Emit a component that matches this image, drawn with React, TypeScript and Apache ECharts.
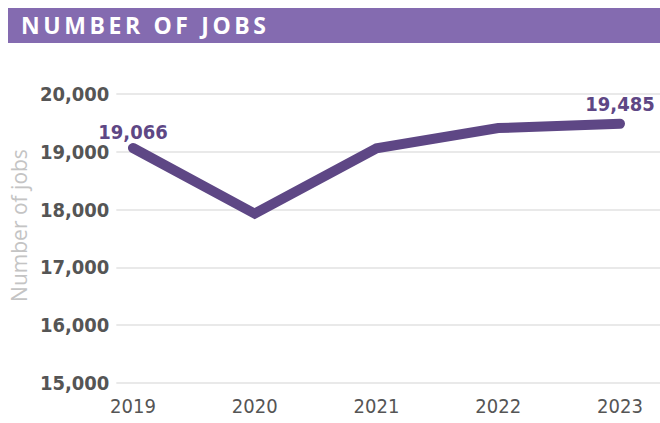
import React, { useEffect, useRef } from "react";
import * as echarts from "echarts";

const title = "NUMBER OF JOBS";
const years = ["2019", "2020", "2021", "2022", "2023"];
const jobs = [19066, 17930, 19060, 19410, 19485];
const yMin = 15000;
const yMax = 20000;
const yStep = 1000;
const yName = "Number of jobs";

const narrow = "'Liberation Sans Narrow', 'DejaVu Sans Condensed', sans-serif";

export default function App() {
  const ref = useRef<HTMLDivElement>(null);
  useEffect(() => {
    if (!ref.current) return;
    const chart = echarts.init(ref.current, null, { renderer: "svg" });
    const last = jobs.length - 1;
    chart.setOption({
      animation: false,
      backgroundColor: "#ffffff",
      graphic: [
        {
          type: "rect",
          shape: { x: 8, y: 8, width: 652, height: 35 },
          style: { fill: "#846bb0" },
          z: 0,
        },
      ],
      grid: [
        { left: 133, right: 40, top: 94, bottom: 40 },
        { left: 96, right: 0, top: 94, bottom: 40 },
      ],
      xAxis: [
        {
          gridIndex: 0,
          type: "category",
          data: years,
          boundaryGap: false,
          axisLine: { show: false },
          axisTick: { show: false },
          axisLabel: {
            margin: 13,
            color: "#555555",
            fontSize: 20,
            fontFamily: narrow,
          },
        },
        { gridIndex: 1, type: "value", min: 0, max: 1, show: false },
      ],
      yAxis: [
        {
          gridIndex: 0,
          type: "value",
          min: yMin,
          max: yMax,
          interval: yStep,
          show: false,
        },
        {
          gridIndex: 1,
          type: "value",
          min: yMin,
          max: yMax,
          interval: yStep,
          axisLine: { show: false },
          axisTick: { show: false },
          axisLabel: {
            margin: 7,
            color: "#555555",
            fontSize: 20,
            fontWeight: "bold",
            fontFamily: narrow,
            formatter: (v: number) => v.toLocaleString("en-US"),
          },
          splitLine: { lineStyle: { color: "#e2e2e2", width: 1.5 } },
          name: yName,
          nameLocation: "middle",
          nameGap: 44,
          nameTextStyle: {
            color: "#c4c4c4",
            fontSize: 21,
            fontFamily: "'Open Sans', sans-serif",
            padding: [0, 0, 0, 26],
          },
        },
      ],
      series: [
        {
          type: "line",
          xAxisIndex: 0,
          yAxisIndex: 0,
          data: jobs.map((v, i) => ({
            value: v,
            label: {
              show: i === 0 || i === last,
              distance: i === 0 ? 5 : 9,
            },
          })),
          showSymbol: true,
          symbol: "circle",
          symbolSize: 1,
          itemStyle: { color: "rgba(94,71,133,0)", borderWidth: 0 },
          lineStyle: { color: "#5e4785", width: 10, cap: "round", join: "miter" },
          label: {
            position: "top",
            color: "#5e4785",
            fontSize: 20,
            fontWeight: "bold",
            fontFamily: narrow,
            formatter: (p: any) => Number(p.value).toLocaleString("en-US"),
          },
          z: 3,
        },
      ],
    });
    return () => chart.dispose();
  }, []);
  return (
    <div style={{ position: "absolute", left: 0, top: 0, width: 660, height: 423 }}>
      <div ref={ref} style={{ width: 660, height: 423 }} />
      <div
        style={{
          position: "absolute",
          left: 21,
          top: 8,
          height: 35,
          lineHeight: "35px",
          color: "#ffffff",
          fontFamily: "'Open Sans', sans-serif",
          fontWeight: 700,
          fontSize: 23,
          letterSpacing: "3.6px",
          pointerEvents: "none",
          whiteSpace: "nowrap",
        }}
      >
        {title}
      </div>
    </div>
  );
}
